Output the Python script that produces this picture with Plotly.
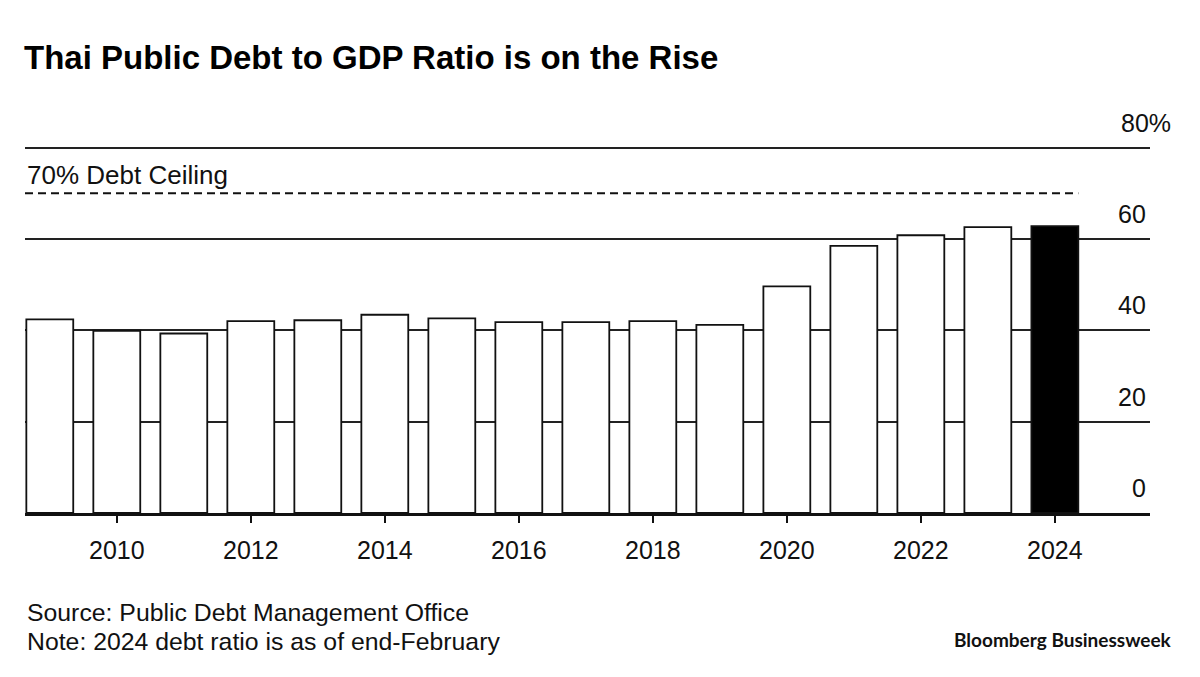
import plotly.graph_objects as go

years = list(range(2009, 2025))
debt_ratio = [42.4, 39.9, 39.3, 42.0, 42.2, 43.4, 42.6, 41.8, 41.8, 42.0, 41.2, 49.6, 58.5, 60.8, 62.6, 62.8]
ceiling = 70
y_ticks = [0, 20, 40, 60, 80]
y_tick_labels = ["0", "20", "40", "60", "80%"]
x_ticks = list(range(2010, 2025, 2))

FONT = "Liberation Sans"
INK = "#111111"
fills = ["#ffffff"] * (len(years) - 1) + ["#000000"]

# plot area in pixels
L, R, T, B = 25, 1150, 143, 513
W_, H_ = 1200, 677
pw, ph = R - L, B - T

def px_x(x):
    return (x - L) / pw

def px_y(y):
    return (B - y) / ph

fig = go.Figure()
fig.add_trace(go.Bar(
    x=years, y=debt_ratio, width=0.7,
    marker=dict(color=fills, line=dict(color=INK, width=1.8)),
    hoverinfo="x+y", showlegend=False,
))

x_lo, x_hi = 2008.63, 2025.42
fig.add_shape(type="line", xref="x", yref="y",
              x0=x_lo, x1=years[-1] + 0.35, y0=ceiling, y1=ceiling,
              line=dict(color=INK, width=2.2, dash="8px,5px"), layer="above")

annots = []
annots.append(dict(xref="x", yref="y", x=x_lo, y=ceiling, text="70% Debt Ceiling",
                   showarrow=False, xanchor="left", yanchor="bottom", yshift=1,
                   font=dict(family=FONT, size=26, color=INK)))

for v, lab in zip(y_ticks, y_tick_labels):
    annots.append(dict(xref="paper", yref="y", x=px_x(1148), y=v, text=lab,
                       showarrow=False, xanchor="right", yanchor="bottom", yshift=9,
                       xshift=25 if lab.endswith("%") else 0,
                       font=dict(family=FONT, size=25, color=INK)))

annots += [
    dict(xref="paper", yref="paper", x=px_x(25), y=px_y(612), xanchor="left", yanchor="middle",
         text="Source: Public Debt Management Office", showarrow=False,
         font=dict(family=FONT, size=24.8, color=INK)),
    dict(xref="paper", yref="paper", x=px_x(25), y=px_y(641), xanchor="left", yanchor="middle",
         text="Note: 2024 debt ratio is as of end-February", showarrow=False,
         font=dict(family=FONT, size=24.8, color=INK)),
    dict(xref="paper", yref="paper", x=px_x(1174), y=px_y(639), xanchor="right", yanchor="middle",
         text="<b>Bloomberg Businessweek</b>", showarrow=False,
         font=dict(family="Lato", size=19, color=INK)),
]

fig.update_layout(
    width=W_, height=H_,
    margin=dict(l=L, r=W_ - R, t=T, b=H_ - B),
    paper_bgcolor="white", plot_bgcolor="white",
    title=dict(text="<b>Thai Public Debt to GDP Ratio is on the Rise</b>",
               x=24 / W_, xanchor="left", y=1 - 57 / H_, yanchor="middle",
               font=dict(family=FONT, size=33, color="#000000")),
    xaxis=dict(range=[x_lo, x_hi], tickvals=x_ticks, ticktext=[str(t) for t in x_ticks],
               ticks="outside", ticklen=7, tickwidth=1.5, tickcolor=INK,
               ticklabelstandoff=6,
               showline=True, linecolor=INK, linewidth=2.8,
               showgrid=False, zeroline=False,
               tickfont=dict(family=FONT, size=25, color=INK)),
    yaxis=dict(range=[0, 81], tickvals=y_ticks[1:], showticklabels=False,
               showgrid=True, gridcolor="#222222", gridwidth=1.8,
               zeroline=False, showline=False, ticks=""),
    annotations=annots,
)

fig.write_html("out.html", config={"displayModeBar": False},
               post_script="document.body.style.margin='0';")
